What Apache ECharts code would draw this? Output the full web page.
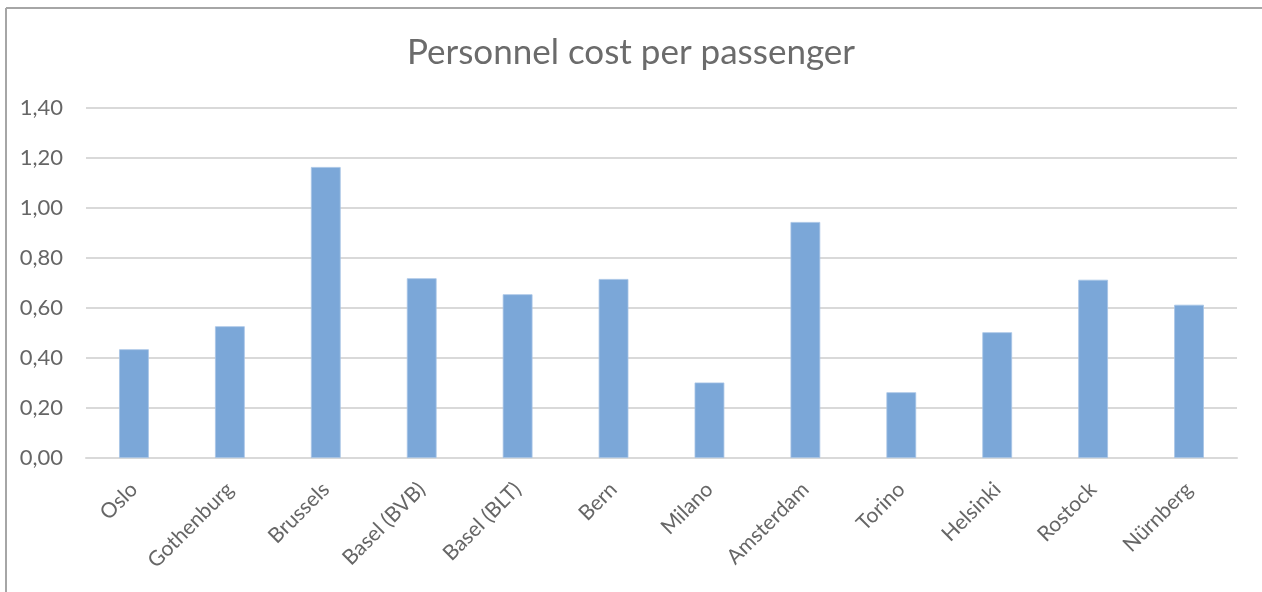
<!DOCTYPE html>
<html>
<head>
<meta charset="utf-8">
<script src="https://cdn.jsdelivr.net/npm/echarts@6/dist/echarts.min.js"></script>
<style>
html,body{margin:0;padding:0;background:#fff;}
#chart{width:1262px;height:592px;}
</style>
</head>
<body>
<div id="chart"></div>
<script>
const titleText = 'Personnel cost per passenger';
const categories = ['Oslo','Gothenburg','Brussels','Basel (BVB)','Basel (BLT)','Bern','Milano','Amsterdam','Torino','Helsinki','Rostock','Nürnberg'];
const values = [0.435, 0.527, 1.164, 0.719, 0.655, 0.716, 0.302, 0.944, 0.263, 0.503, 0.713, 0.613];
const yTicks = [0, 0.2, 0.4, 0.6, 0.8, 1.0, 1.2, 1.4];

const chart = echarts.init(document.getElementById('chart'));
const font = 'Lato, "Open Sans", sans-serif';
chart.setOption({
  animation: false,
  backgroundColor: '#fff',
  graphic: [
    {type: 'line', shape: {x1: 6, y1: 8, x2: 1262, y2: 8}, style: {stroke: '#a6a6a6', lineWidth: 2}, silent: true},
    {type: 'line', shape: {x1: 6, y1: 8, x2: 6, y2: 592}, style: {stroke: '#a6a6a6', lineWidth: 2}, silent: true}
  ],
  title: {
    text: titleText,
    left: 'center',
    top: 30,
    textStyle: {fontFamily: font, fontSize: 35, fontWeight: 'normal', color: '#6b6b6b'}
  },
  grid: {left: 86, right: 25, top: 108, bottom: 134, containLabel: false},
  xAxis: {
    type: 'category',
    data: categories,
    axisLine: {show: true, lineStyle: {color: '#d9d9d9', width: 2}},
    axisTick: {show: false},
    axisLabel: {rotate: 45, margin: 28, fontFamily: font, fontSize: 21, color: '#666666', interval: 0}
  },
  yAxis: {
    type: 'value',
    min: yTicks[0],
    max: yTicks[yTicks.length - 1],
    interval: 0.2,
    axisLine: {show: false},
    axisTick: {show: false},
    splitLine: {lineStyle: {color: '#d9d9d9', width: 2}},
    axisLabel: {
      margin: 23, fontFamily: font, fontSize: 22, color: '#666666',
      formatter: v => v.toFixed(2).replace('.', ',')
    }
  },
  series: [{
    type: 'bar',
    data: values,
    barWidth: '31%',
    itemStyle: {color: '#7ba7d8', borderColor: '#a7c4e6', borderWidth: 0.8}
  }]
});
</script>
</body>
</html>
